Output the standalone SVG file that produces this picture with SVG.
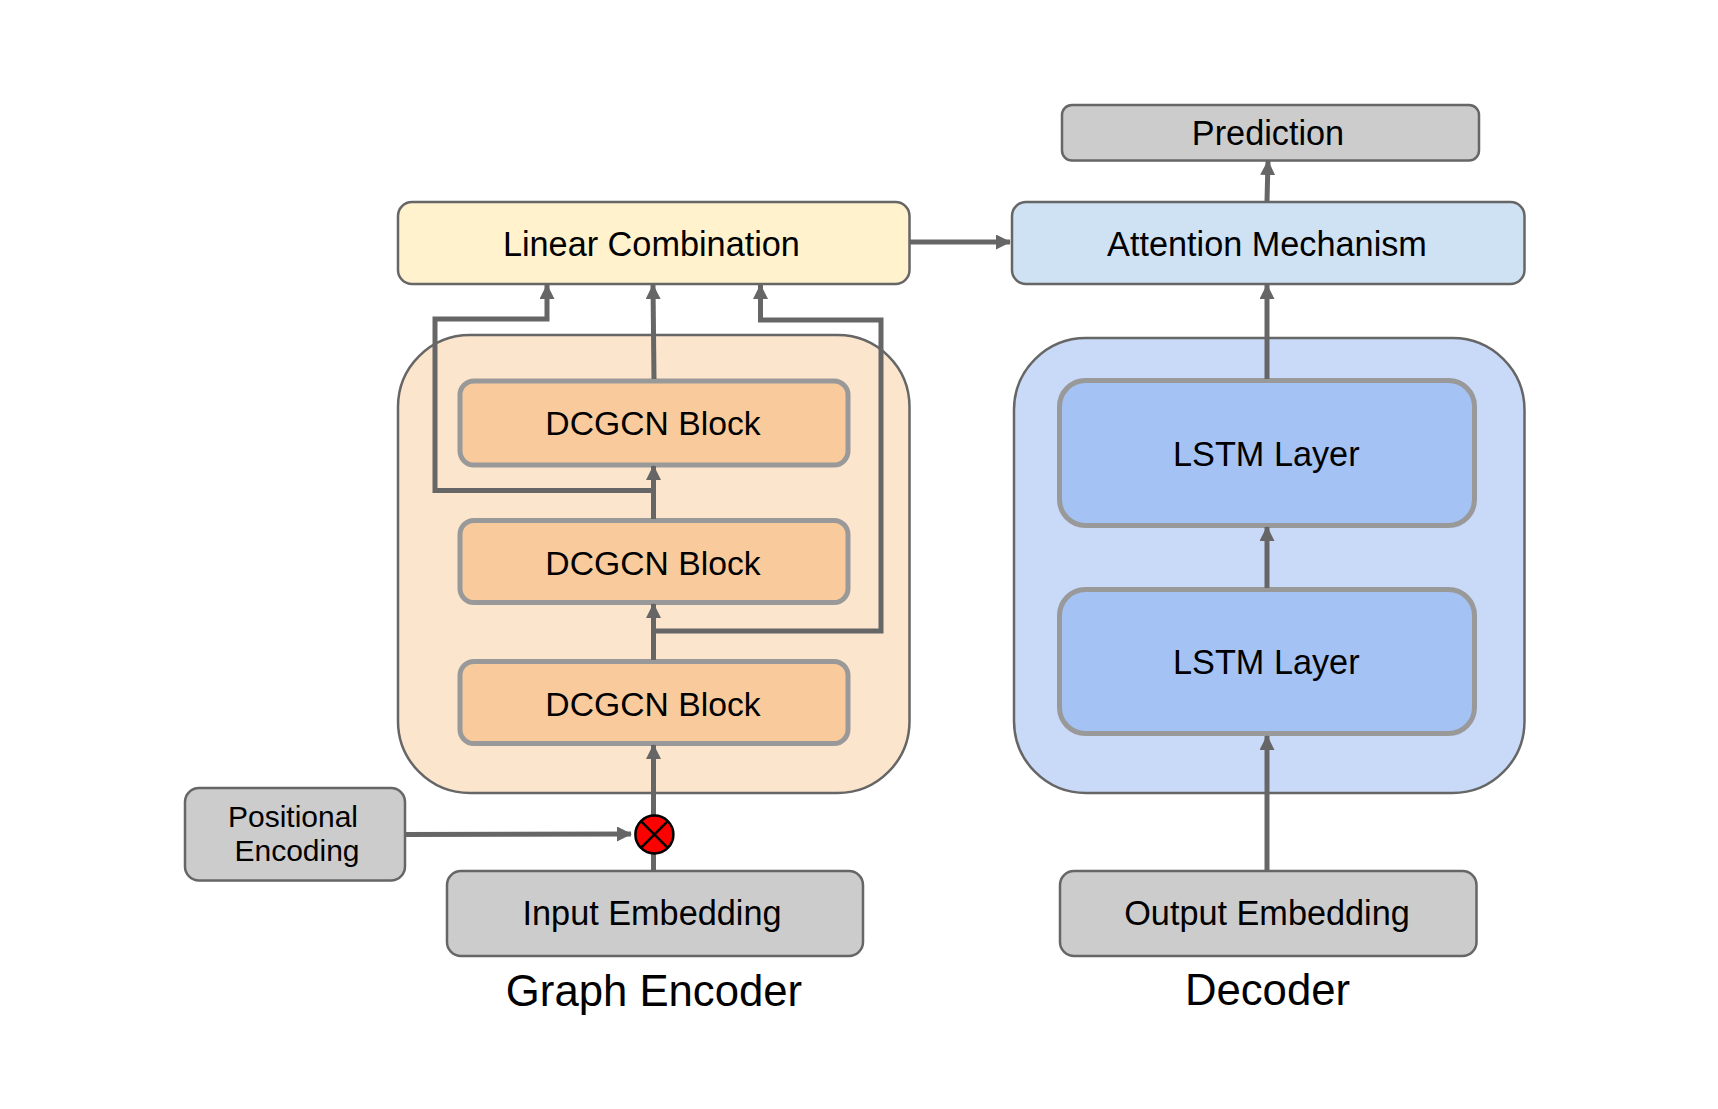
<svg xmlns="http://www.w3.org/2000/svg" width="1718" height="1109" viewBox="0 0 1718 1109">
<defs>
<style>
text{font-family:"Liberation Sans",Arial,sans-serif;fill:#000;text-anchor:middle}
.t34{font-size:34.25px}.t33{font-size:33.7px}.t30{font-size:30px}.t43{font-size:43.7px}
.box{stroke:#666;stroke-width:2.5}
.inner{stroke:#999;stroke-width:5}
.gray{fill:#ccc}
.conn{fill:none;stroke:#666;stroke-width:5;stroke-linejoin:miter}
.head{fill:#666}
</style>
<marker id="arr" markerUnits="userSpaceOnUse" markerWidth="16" markerHeight="15" refX="14" refY="7.5" orient="auto"><path d="M0 0L15 7.5L0 15Z" class="head"/></marker>
</defs>
<rect width="1718" height="1109" fill="#fff"/>
<g id="encoder-container"><rect class="box" x="398" y="335" width="511.5" height="458" rx="72" fill="#fce5cd"/></g>
<g id="decoder-container"><rect class="box" x="1014" y="338" width="510.5" height="455" rx="72" fill="#c9daf8"/></g>
<g id="linear-combination"><rect class="box" x="398" y="202" width="511.5" height="82" rx="14" fill="#fff2cc"/><text class="t34" x="651.4" y="256">Linear Combination</text></g>
<g id="attention-mechanism"><rect class="box" x="1012" y="202" width="512.5" height="82" rx="14" fill="#cfe2f3"/><text class="t34" x="1267" y="256">Attention Mechanism</text></g>
<g id="prediction"><rect class="box gray" x="1062" y="105" width="417" height="55.5" rx="10"/><text class="t34" x="1268" y="145">Prediction</text></g>
<g id="dcgcn-3"><rect class="inner" x="460" y="381" width="388" height="84" rx="14" fill="#f9cb9c"/><text class="t33" x="653" y="435">DCGCN Block</text></g>
<g id="dcgcn-2"><rect class="inner" x="460" y="520.5" width="388" height="82" rx="14" fill="#f9cb9c"/><text class="t33" x="653" y="574.5">DCGCN Block</text></g>
<g id="dcgcn-1"><rect class="inner" x="460" y="661.5" width="388" height="82" rx="14" fill="#f9cb9c"/><text class="t33" x="653" y="716">DCGCN Block</text></g>
<g id="lstm-2"><rect class="inner" x="1059.5" y="380.5" width="415" height="145" rx="26" fill="#a4c2f4"/><text class="t34" x="1266.3" y="466">LSTM Layer</text></g>
<g id="lstm-1"><rect class="inner" x="1059.5" y="589.5" width="415" height="144" rx="26" fill="#a4c2f4"/><text class="t34" x="1266.3" y="674">LSTM Layer</text></g>
<g id="positional-encoding"><rect class="box gray" x="185" y="788" width="220" height="92.5" rx="14"/><text class="t30" x="293" y="827">Positional</text><text class="t30" x="297" y="861">Encoding</text></g>
<g id="input-embedding"><rect class="box gray" x="447" y="871" width="416" height="85" rx="14"/><text class="t34" x="652" y="925">Input Embedding</text></g>
<g id="output-embedding"><rect class="box gray" x="1060" y="871" width="416.5" height="85" rx="14"/><text class="t34" x="1267" y="925">Output Embedding</text></g>
<g id="connectors">
<path class="conn" marker-end="url(#arr)" d="M653.5 870V745"/>
<path class="conn" marker-end="url(#arr)" d="M653.5 660V604"/>
<path class="conn" marker-end="url(#arr)" d="M653.5 519V466"/>
<path class="conn" marker-end="url(#arr)" d="M654 379L653 285"/>
<path class="conn" marker-end="url(#arr)" d="M653.5 490.5H435V319H547V285"/>
<path class="conn" marker-end="url(#arr)" d="M653.5 631H881V320H760.5V285"/>
<path class="conn" marker-end="url(#arr)" d="M405 834.5L631 834"/>
<path class="conn" marker-end="url(#arr)" d="M910 242H1010"/>
<path class="conn" marker-end="url(#arr)" d="M1267 379V285"/>
<path class="conn" marker-end="url(#arr)" d="M1267 588V527"/>
<path class="conn" marker-end="url(#arr)" d="M1267 870V736"/>
<path class="conn" marker-end="url(#arr)" d="M1267 201L1268 161"/>
</g>
<g id="add-node"><circle cx="654.4" cy="834.5" r="19" fill="#f00" stroke="#000" stroke-width="2.5"/><path d="M641 821.1L667.8 847.9M667.8 821.1L641 847.9" stroke="#000" stroke-width="2.5" fill="none"/></g>
<g id="labels"><text class="t43" x="654" y="1006">Graph Encoder</text><text class="t43" x="1267.5" y="1005">Decoder</text></g>
</svg>
